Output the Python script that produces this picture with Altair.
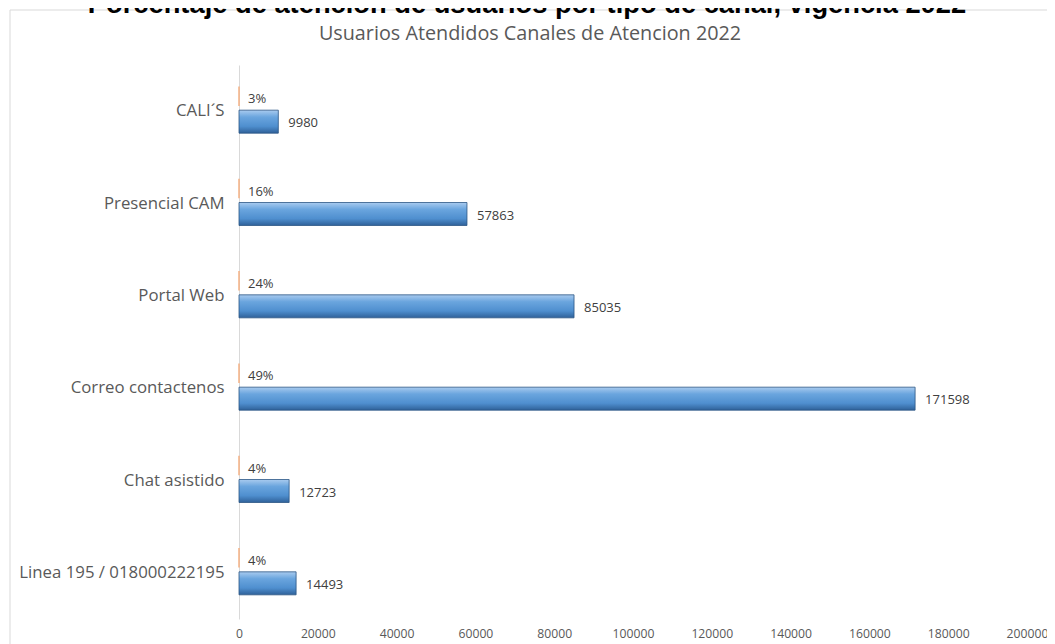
import altair as alt
import pandas as pd

categorias = ["CALI´S", "Presencial CAM", "Portal Web", "Correo contactenos",
              "Chat asistido", "Linea 195 / 018000222195"]
usuarios = [9980, 57863, 85035, 171598, 12723, 14493]
porcentajes = [0.03, 0.16, 0.24, 0.49, 0.04, 0.04]
x_ticks = [0, 20000, 40000, 60000, 80000, 100000, 120000, 140000, 160000, 180000, 200000]

titulo = "Porcentaje de atención de usuarios por tipo de canal, vigencia 2022"
subtitulo = "Usuarios Atendidos Canales de Atencion 2022"

df = pd.DataFrame({"canal": categorias, "usuarios": usuarios, "pct": porcentajes})
marco = pd.DataFrame({"k": [0]})
titulos = pd.DataFrame({"t": [titulo]})
subtitulos = pd.DataFrame({"t": [subtitulo]})

FONT = "Open Sans"
GRIS = "#595959"

x_scale = alt.Scale(domain=[0, 200000], nice=False, zero=True)
y_enc = alt.Y("canal:N", sort=categorias, title=None,
              scale=alt.Scale(paddingInner=0, paddingOuter=0),
              axis=alt.Axis(domainColor="#d9d9d9", domainWidth=1, ticks=False, grid=False,
                            labelFontSize=16.8, labelColor=GRIS, labelFont=FONT,
                            labelPadding=15, labelLimit=300))
x_axis = alt.Axis(values=x_ticks, format="d", domain=False, ticks=False, grid=False,
                  labelFontSize=12.2, labelColor=GRIS, labelFont=FONT, labelPadding=8,
                  labelFlush=False)

gradiente = alt.Gradient(
    gradient="linear",
    stops=[alt.GradientStop(color="#a9cbef", offset=0),
           alt.GradientStop(color="#6aa5de", offset=0.3),
           alt.GradientStop(color="#4f8fcf", offset=0.7),
           alt.GradientStop(color="#2f6199", offset=1)],
    x1=0, x2=0, y1=0, y2=1)

marco_layer = alt.Chart(marco).mark_rect(fill="transparent", stroke="#d9d9d9", strokeWidth=1).encode(
    x=alt.value(-229), x2=alt.value(813), y=alt.value(-55), y2=alt.value(620))

titulo_layer = alt.Chart(titulos).mark_text(
    align="center", baseline="alphabetic", font="Liberation Sans", fontSize=27.3,
    fontWeight="bold", color="#000000").encode(
    x=alt.value(288), y=alt.value(-52), text="t:N")

subtitulo_layer = alt.Chart(subtitulos).mark_text(
    align="center", baseline="alphabetic", font=FONT, fontSize=19.8,
    color=GRIS).encode(
    x=alt.value(291), y=alt.value(-25), text="t:N")

naranja = alt.Chart(df).mark_bar(height=18, yOffset=-15, color="#f4b183",
                                 stroke="#f4b183", strokeWidth=1.5).encode(
    x=alt.X("pct:Q", scale=x_scale, axis=x_axis, title=None), y=y_enc)

azul = alt.Chart(df).mark_bar(height=23, yOffset=10.5, color=gradiente,
                              stroke="#2b5584", strokeWidth=0.8).encode(
    x=alt.X("usuarios:Q", scale=x_scale, axis=x_axis, title=None), y=y_enc)

txt_pct = alt.Chart(df).mark_text(align="left", baseline="middle", dx=9, dy=-12,
                                  fontSize=13, font=FONT, color="#404040").encode(
    x=alt.X("pct:Q", scale=x_scale, title=None), y=y_enc,
    text=alt.Text("pct:Q", format=".0%"))

txt_val = alt.Chart(df).mark_text(align="left", baseline="middle", dx=10, dy=12,
                                  fontSize=13, font=FONT, color="#404040").encode(
    x=alt.X("usuarios:Q", scale=x_scale, title=None), y=y_enc,
    text=alt.Text("usuarios:Q", format="d"))

chart = alt.layer(marco_layer, titulo_layer, subtitulo_layer, naranja, azul,
                  txt_pct, txt_val).properties(
    width=788, height=554,
    padding={"left": 231, "top": 57, "right": 20, "bottom": 25},
    autosize=alt.AutoSizeParams(type="none"),
).configure_view(stroke=None)

chart.save("out.html", embed_options={"renderer": "svg", "actions": False})
